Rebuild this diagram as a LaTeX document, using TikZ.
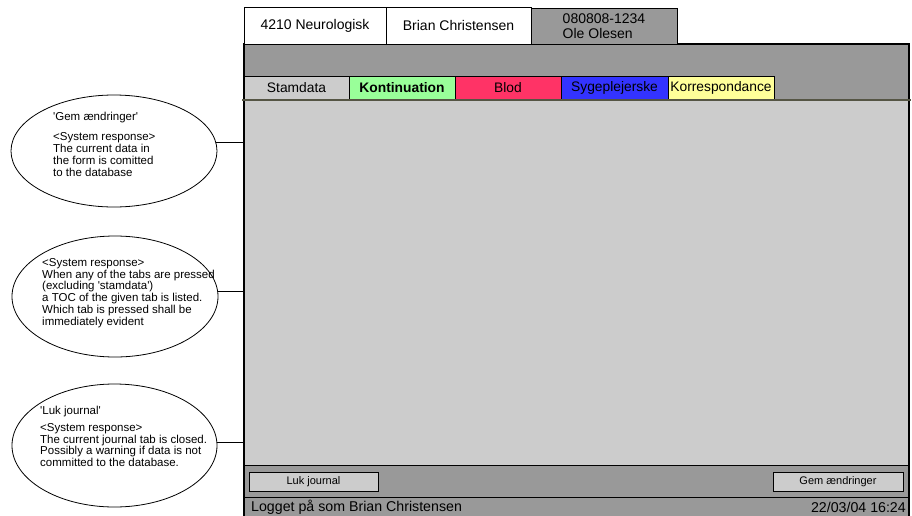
\documentclass[tikz,border=0pt]{standalone}
\usepackage{fontspec}
\setmainfont{Liberation Sans}[Ligatures=TeXOff]
\usetikzlibrary{shapes.geometric}

\definecolor{panelgray}{HTML}{999999}
\definecolor{areagray}{HTML}{CCCCCC}
\definecolor{tabgreen}{HTML}{99FF99}
\definecolor{tabred}{HTML}{FF3366}
\definecolor{tabblue}{HTML}{3333FF}
\definecolor{tabyellow}{HTML}{FFFF99}
\definecolor{rulecolor}{HTML}{555544}

\begin{document}
\begin{tikzpicture}[x=1pt,y=-1pt,
  panel/.style={draw=black, line width=0.8pt, inner sep=0pt, outer sep=0pt, anchor=north west},
  hdrbox/.style={panel, font=\fontsize{14}{15}\selectfont, align=center},
  tabbox/.style={panel, minimum height=24, font=\fontsize{13.8}{16}\selectfont},
  btnbox/.style={panel, fill=areagray, minimum height=19, font=\fontsize{11}{13}\selectfont},
  note/.style={ellipse, draw=black, line width=0.8pt, inner sep=0pt},
  notetext/.style={anchor=north west, inner sep=0pt, align=left},
  link/.style={draw=black, line width=0.8pt}]

\useasboundingbox (0,0) rectangle (912,515);

% window body: grey band behind the tabs, content area, button bar, status bar
\node[panel, fill=panelgray, minimum width=665, minimum height=56] (band) at (244,44) {};
\node[panel, fill=areagray, minimum width=665, minimum height=365] (content) at (244,100) {};
\node[panel, fill=panelgray, minimum width=665, minimum height=32] (buttonbar) at (244,465) {};
\node[panel, fill=panelgray, minimum width=665, minimum height=24] (statusbar) at (244,497) {};

% outer frame of the window
\draw[black, line width=1.2pt] (band.north west |- statusbar.south) -- (band.north west)
  -- (band.north east) -- (band.north east |- statusbar.south);

% header boxes
\node[hdrbox, fill=white, minimum width=142, minimum height=37] (dept) at (244,7) {4210 Neurologisk};
\node[hdrbox, fill=white, minimum width=145, minimum height=37] (user) at (386,7) {Brian Christensen};
\node[hdrbox, fill=panelgray, minimum width=146, minimum height=36, align=left] (patient) at (531,8) {080808-1234\\Ole Olesen};

% tabs
\node[tabbox, fill=areagray, minimum width=105] (tstam) at (244,76) {Stamdata};
\node[tabbox, fill=tabgreen, minimum width=106] (tkont) at (349,76) {\bfseries Kontinuation};
\node[tabbox, fill=tabred, minimum width=106] (tblod) at (455,76) {Blod};
\node[tabbox, fill=tabblue, minimum width=107] (tsyg) at (561,76) {Sygeplejerske};
\node[tabbox, fill=tabyellow, minimum width=106] (tkorr) at (668,76) {Korrespondance};

% rule under the tab row
\draw[rulecolor, line width=2pt] (242,100) -- (911,100);

% buttons
\node[btnbox, minimum width=129] (close) at (249,472) {Luk journal};
\node[btnbox, minimum width=130] (save) at (773,472) {Gem ændringer};

% status bar texts
\node[anchor=west, inner sep=0pt, font=\fontsize{14.2}{16}\selectfont] (login) at (251,507) {Logget på som Brian Christensen};
\node[anchor=east, inner sep=0pt, font=\fontsize{14.2}{16}\selectfont] (clock) at (906,507) {22/03/04 16:24};

% explanatory ellipses
\node[note, minimum width=206, minimum height=112] (e1) at (114,151) {};
\node[note, minimum width=206, minimum height=121] (e2) at (115,296.5) {};
\node[note, minimum width=205, minimum height=123] (e3) at (114.5,445.5) {};

\node[notetext, font=\fontsize{11.5}{12}\selectfont] (e1text) at (53,112) {'Gem ændringer'\\[8pt]<System response>\\The current data in\\the form is comitted\\to the database};
\node[notetext, font=\fontsize{11.5}{11.8}\selectfont] (e2text) at (42,258) {<System response>\\When any of the tabs are pressed\\(excluding 'stamdata')\\a TOC of the given tab is listed.\\Which tab is pressed shall be\\immediately evident};
\node[notetext, font=\fontsize{11.5}{11.8}\selectfont] (e3text) at (40,406) {'Luk journal'\\[5pt]<System response>\\The current journal tab is closed.\\Possibly a warning if data is not\\committed to the database.};

% connectors from the ellipses to the window
\draw[link] (e1.5) -- (e1.5 -| content.west);
\draw[link] (e2.3) -- (e2.3 -| content.west);
\draw[link] (e3.2) -- (e3.2 -| content.west);

\end{tikzpicture}
\end{document}
